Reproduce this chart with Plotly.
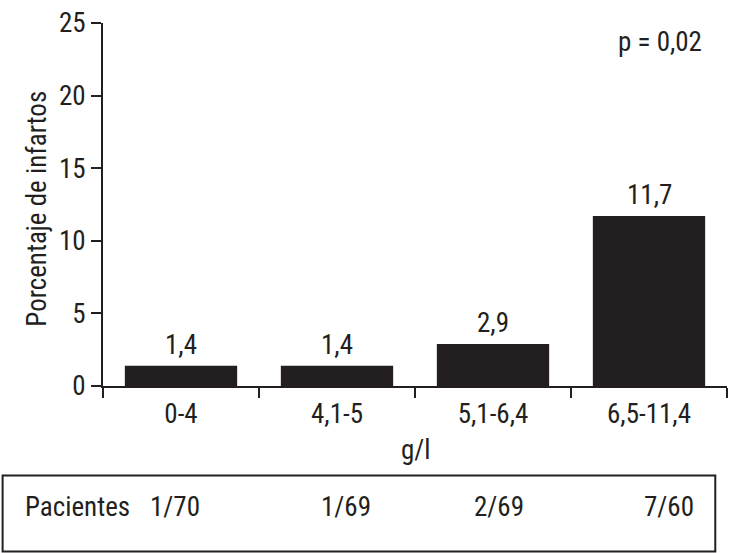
import plotly.graph_objects as go

categories = ["0-4", "4,1-5", "5,1-6,4", "6,5-11,4"]
values = [1.4, 1.4, 2.9, 11.7]
value_labels = ["1,4", "1,4", "2,9", "11,7"]
patients = ["1/70", "1/69", "2/69", "7/60"]
y_ticks = [0, 5, 10, 15, 20, 25]

INK = "#231f20"
FONT = "'Roboto Condensed', 'Archivo Narrow', 'Liberation Sans Narrow', 'Ubuntu Condensed', sans-serif"
FS = 27

W, H = 730, 553
L, R, T, B = 103.3, 3.3, 22.7, 166.7
PW, PH = W - L - R, H - T - B


def px(x):
    return (x - L) / PW


def py(y):
    return (H - B - y) / PH


fig = go.Figure()
fig.add_trace(go.Bar(
    x=categories, y=values,
    marker=dict(color=INK, line=dict(width=0)),
    width=0.72,
    hoverinfo="skip",
))

annotations = []
for c, v, t in zip(categories, values, value_labels):
    annotations.append(dict(x=c, y=v, xref="x", yref="y", text=t, showarrow=False,
                            yanchor="bottom", yshift=3,
                            font=dict(size=FS, color=INK, family=FONT)))

annotations.append(dict(x=px(659.5), y=py(42), xref="paper", yref="paper", text="p = 0,02",
                        showarrow=False, xanchor="center", yanchor="middle",
                        font=dict(size=FS, color=INK, family=FONT)))
annotations.append(dict(x=px(37), y=py(209), xref="paper", yref="paper",
                        text="Porcentaje de infartos", textangle=-90, showarrow=False,
                        xanchor="center", yanchor="middle",
                        font=dict(size=FS, color=INK, family=FONT)))
annotations.append(dict(x=px(416), y=py(450), xref="paper", yref="paper", text="g/l",
                        showarrow=False, xanchor="center", yanchor="middle",
                        font=dict(size=FS, color=INK, family=FONT)))
annotations.append(dict(x=px(78), y=py(507), xref="paper", yref="paper", text="Pacientes",
                        showarrow=False, xanchor="center", yanchor="middle",
                        font=dict(size=FS, color=INK, family=FONT)))
patient_x = [175, 346, 499, 669]
for xpos, t in zip(patient_x, patients):
    annotations.append(dict(x=px(xpos), y=py(507), xref="paper", yref="paper", text=t,
                            showarrow=False, xanchor="center", yanchor="middle",
                            font=dict(size=FS, color=INK, family=FONT)))

fig.add_shape(type="rect", xref="paper", yref="paper",
              x0=px(3), x1=px(715), y0=py(552), y1=py(476),
              line=dict(color=INK, width=2), fillcolor="rgba(0,0,0,0)")

fig.update_layout(
    width=W, height=H,
    margin=dict(l=L, r=R, t=T, b=B, pad=0),
    paper_bgcolor="white", plot_bgcolor="white",
    showlegend=False,
    annotations=annotations,
    font=dict(family=FONT, color=INK, size=FS),
    xaxis=dict(
        type="category", tickson="boundaries", ticks="outside", ticklen=10, tickwidth=2,
        tickcolor=INK, showline=True, linecolor=INK, linewidth=2, showgrid=False,
        zeroline=False, tickfont=dict(size=FS, color=INK, family=FONT),
        range=[-0.5, 3.5], ticklabelstandoff=3,
    ),
    yaxis=dict(
        range=[0, 25], tickvals=y_ticks, ticktext=[str(v) for v in y_ticks],
        ticks="outside", ticklen=10, tickwidth=2, tickcolor=INK,
        showline=True, linecolor=INK, linewidth=2, showgrid=False, zeroline=False,
        tickfont=dict(size=FS, color=INK, family=FONT),
    ),
)

fig.write_html("out.html", config={"displayModeBar": False},
               post_script="document.body.style.margin='0';document.body.style.overflow='hidden';")
